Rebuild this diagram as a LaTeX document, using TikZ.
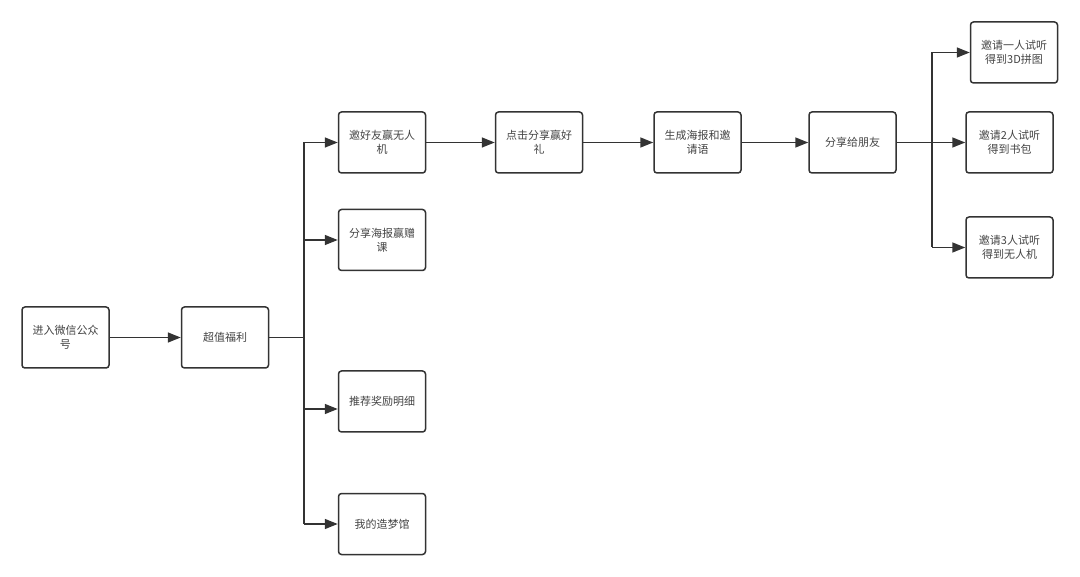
\documentclass[tikz,border=0pt]{standalone}
\usepackage{fontspec}
\newfontfamily\cjk{Noto Sans CJK SC}
\usetikzlibrary{arrows.meta,positioning}
\definecolor{linegray}{HTML}{333333}
\definecolor{textgray}{HTML}{444444}
\tikzset{>={Triangle[length=13pt,width=10pt]}}
\tikzset{box node/.style={draw=linegray,line width=1.5pt,rounded corners=3pt,fill=white,
            minimum width=87pt,minimum height=61pt,inner sep=0pt,align=center,
            text=textgray,font=\cjk\fontsize{11}{14}\selectfont},
         flow/.style={draw=linegray,line width=1.5pt}
            }

\begin{document}
\begin{tikzpicture}[x=1pt,y=-1pt]

    \useasboundingbox (0,0) rectangle (1080,577);

    \node[box node] (entry) at (65.5,337.5) {进入微信公众\\号};
    \node[box node] (bonus) at (225,337.5) {超值福利};

    \node[box node] (invite) at (382,142.5) {邀好友赢无人\\机};
    \node[box node] (poster) at (382,240) {分享海报赢赠\\课};
    \node[box node] (reward) at (382,401.5) {推荐奖励明细};
    \node[box node] (dream) at (382,524) {我的造梦馆};

    \node[box node] (click) at (539,142.5) {点击分享赢好\\礼};
    \node[box node] (make) at (697.5,142.5) {生成海报和邀\\请语};
    \node[box node] (share) at (852.5,142.5) {分享给朋友};

    \node[box node] (one) at (1014,52.5) {邀请一人试听\\得到3D拼图};
    \node[box node] (two) at (1009.5,142.5) {邀请2人试听\\得到书包};
    \node[box node] (three) at (1009.5,247.5) {邀请3人试听\\得到无人机};

    % trunk left
    \coordinate (t0) at (304,337.5);
    \coordinate (t1) at (304,142.5);
    \coordinate (t2) at (304,240);
    \coordinate (t3) at (304,409);
    \coordinate (t4) at (304,524);
    % trunk right
    \coordinate (s0) at (932,142.5);
    \coordinate (s1) at (932,52.5);
    \coordinate (s3) at (932,247.5);

    \path[flow,->] (entry) -- (bonus);
    \path[flow] (bonus.east) -- (t0) (t1) -- (t4);
    \path[flow,->] (t1) -- (invite.west);
    \path[flow,->] (t2) -- (poster.west);
    \path[flow,->] (t3) -- (t3 -| reward.west);
    \path[flow,->] (t4) -- (dream.west);

    \path[flow,->] (invite) -- (click);
    \path[flow,->] (click) -- (make);
    \path[flow,->] (make) -- (share);

    \path[flow] (share.east) -- (s0) (s1) -- (s3);
    \path[flow,->] (s1) -- (one.west);
    \path[flow,->] (s0) -- (two.west);
    \path[flow,->] (s3) -- (three.west);

\end{tikzpicture}
\end{document}
